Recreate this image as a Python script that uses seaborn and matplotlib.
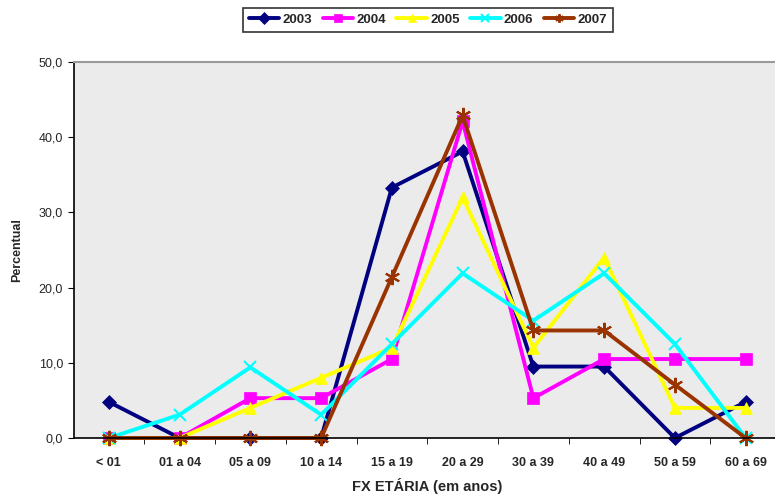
import matplotlib
matplotlib.use("Agg")
import matplotlib.pyplot as plt
import seaborn as sns
import pandas as pd
from matplotlib.ticker import FuncFormatter

categories = ["< 01", "01 a 04", "05 a 09", "10 a 14", "15 a 19", "20 a 29",
              "30 a 39", "40 a 49", "50 a 59", "60 a 69"]
years = ["2003", "2004", "2005", "2006", "2007"]
v2003 = [4.8, 0.0, 0.0, 0.0, 33.3, 38.1, 9.5, 9.5, 0.0, 4.8]
v2004 = [0.0, 0.0, 5.3, 5.3, 10.5, 42.1, 5.3, 10.5, 10.5, 10.5]
v2005 = [0.0, 0.0, 4.0, 8.0, 12.0, 32.0, 12.0, 24.0, 4.0, 4.0]
v2006 = [0.0, 3.1, 9.4, 3.1, 12.5, 21.9, 15.6, 21.9, 12.5, 0.0]
v2007 = [0.0, 0.0, 0.0, 0.0, 21.4, 42.9, 14.3, 14.3, 7.1, 0.0]
series = [v2003, v2004, v2005, v2006, v2007]

colors = ["#000080", "#FF00FF", "#FFFF00", "#00FFFF", "#993300"]
markers = ["D", "s", "^", "x", (6, 2, 0)]
msizes = [7, 9, 9, 9, 11]

rows = []
for y, vals in zip(years, series):
    for i, (c, v) in enumerate(zip(categories, vals)):
        rows.append({"pos": i, "cat": c, "year": y, "value": v})
df = pd.DataFrame(rows)

sns.set_style("white")
plt.rcParams["font.family"] = ["Liberation Sans", "DejaVu Sans"]

fig = plt.figure(figsize=(7.75, 4.97), dpi=100)
ax = fig.add_axes([73.5 / 775, 1 - 438 / 497, (781 - 73.5) / 775, (438 - 62) / 497])
ax.set_facecolor("#ebebeb")

for y, col, mk, ms in zip(years, colors, markers, msizes):
    sub = df[df["year"] == y]
    sns.lineplot(data=sub, x="pos", y="value", ax=ax, color=col, marker=mk,
                 markersize=ms, linewidth=2.8, label=y, sort=False,
                 markeredgecolor=col, markeredgewidth=1.5 if mk in ("x", (6, 2, 0)) else 0.5,
                 clip_on=False)

ax.set_xlim(-0.5, len(categories) - 0.5)
ax.set_ylim(0, 50)
ax.set_yticks([0, 10, 20, 30, 40, 50])
ax.yaxis.set_major_formatter(FuncFormatter(lambda v, p: f"{v:.1f}".replace(".", ",")))
ax.set_xticks(range(len(categories)))
ax.set_xticklabels(categories, fontweight="bold", fontsize=9)
ax.set_xticks([i + 0.5 for i in range(len(categories) - 1)], minor=True)
ax.tick_params(axis="x", which="major", length=0, pad=14)
ax.tick_params(axis="x", which="minor", length=4, direction="out", color="black", bottom=True)
ax.tick_params(axis="y", which="major", length=4, direction="out", color="black", left=True,
               labelsize=9)

for s in ["left", "bottom"]:
    ax.spines[s].set_color("black")
    ax.spines[s].set_linewidth(1.2)
ax.spines["top"].set_color("#999999")
ax.spines["top"].set_linewidth(1.5)
ax.spines["right"].set_visible(False)

ax.set_xlabel("FX ETÁRIA (em anos)", fontweight="bold", fontsize=10.5, labelpad=6)
ax.set_ylabel("Percentual", fontweight="bold", fontsize=9, labelpad=11)

handles, labels = ax.get_legend_handles_labels()
ax.get_legend().remove()
leg = fig.legend(handles, labels, loc="center", bbox_to_anchor=(428 / 775, 1 - 20 / 497),
                 ncol=5, frameon=True, fancybox=False, edgecolor="black",
                 prop={"weight": "bold", "size": 9.5}, handlelength=2.3,
                 columnspacing=0.8, handletextpad=0.25, borderpad=0.45)
leg.get_frame().set_linewidth(1.2)
for h in leg.legend_handles:
    h.set_markersize(6)

fig.savefig("out.png", dpi=100)
